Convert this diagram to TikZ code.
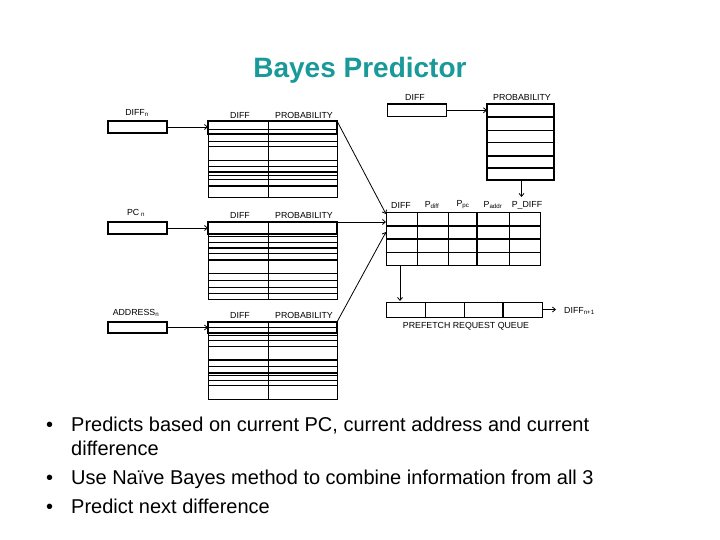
\documentclass[tikz,border=0pt]{standalone}
\usepackage{fontspec}
\setmainfont{Liberation Sans}
\usetikzlibrary{arrows.meta,calc}
\definecolor{teal1}{RGB}{25,153,153}
\begin{document}
\begin{tikzpicture}[x=1pt,y=-1pt,
  lbl/.style={font=\fontsize{8.8}{10}\selectfont, inner sep=0},
  inbox/.style={draw, line width=1.3pt, inner sep=0, outer sep=0, anchor=north west},
  tab/.style={draw, line width=1pt, inner sep=0, outer sep=0, anchor=north west},
  thinl/.style={line width=0.8pt},
  thickl/.style={line width=1.8pt},
  arr/.style={-{Straight Barb[length=3pt,width=5pt]}, line width=0.8pt},
  bul/.style={anchor=base west, inner sep=0, font=\fontsize{20}{24}\selectfont},
]
\useasboundingbox (0,0) rectangle (720,540);

% title
\node[anchor=base, inner sep=0, font=\fontsize{28}{32}\selectfont\bfseries, text=teal1] (title) at (360,78) {Bayes Predictor};

% ---------- left inputs ----------
\node[inbox, minimum width=59pt, minimum height=12pt] (b1) at (108,121) {};
\node[inbox, minimum width=59pt, minimum height=12pt] (b2) at (108,222) {};
\node[inbox, minimum width=59pt, minimum height=11pt] (b3) at (108,322) {};
\node[lbl] (lb1) at (137,113) {DIFF\textsubscript{n}};
\node[lbl] (lb2) at (136,213) {PC\textsubscript{ n}};
\node[lbl] (lb3) at (136,313) {ADDRESS\textsubscript{n}};

% ---------- table 1 ----------
\node[tab, minimum width=129pt, minimum height=77pt] (t1) at (208,121) {};
\foreach \y in {129,141.7,146.7,160,166,175,179.3} \draw[thinl] (208,\y) -- (337,\y);
\foreach \y in {171.7,185.7} \draw[thickl] (208,\y) -- (337,\y);
\draw[thickl] (208,121) rectangle (337,134.3);
\draw[thinl] (268,121) -- (268,198);
\node[lbl] (h1a) at (240,115) {DIFF};
\node[lbl] (h1b) at (304,115) {PROBABILITY};

% ---------- table 2 ----------
\node[tab, minimum width=129pt, minimum height=77pt] (t2) at (208,222) {};
\foreach \y in {236.7,242.3,253.3,273.3,280,287.3,293.3} \draw[thinl] (208,\y) -- (337,\y);
\foreach \y in {247.7,260} \draw[thickl] (208,\y) -- (337,\y);
\draw[thickl] (208,222) rectangle (337,234.3);
\draw[thinl] (268,222) -- (268,299);
\node[lbl] (h2a) at (240,215) {DIFF};
\node[lbl] (h2b) at (304,215) {PROBABILITY};

% ---------- table 3 ----------
\node[tab, minimum width=129pt, minimum height=77pt] (t3) at (208,322) {};
\foreach \y in {327.8,335,340.7,346.7,366.7,375,380,385.7} \draw[thinl] (208,\y) -- (337,\y);
\foreach \y in {360,372.7} \draw[thickl] (208,\y) -- (337,\y);
\draw[thickl] (208,322) rectangle (337,333.3);
\draw[thinl] (268,322) -- (268,399);
\node[lbl] (h3a) at (240,315) {DIFF};
\node[lbl] (h3b) at (304,315) {PROBABILITY};

% ---------- right top ----------
\node[inbox, minimum width=59pt, minimum height=12.5pt] (db) at (387.5,104) {};
\node[lbl] (ldb) at (415,97) {DIFF};
\node[tab, line width=1.4pt, minimum width=67pt, minimum height=76pt] (pt) at (487,104) {};
\foreach \y in {130,142.7} \draw[thinl] (487,\y) -- (554,\y);
\foreach \y in {116.7,155.7,168.3} \draw[thickl] (487,\y) -- (554,\y);
\node[lbl] (lpt) at (522,97) {PROBABILITY};

% ---------- big table ----------
\node[tab, minimum width=154pt, minimum height=52pt] (bt) at (386,213) {};
\foreach \y in {252.7} \draw[thinl] (386,\y) -- (540,\y);
\foreach \y in {226,239.3} \draw[thickl] (386,\y) -- (540,\y);
\foreach \x in {417.3,448.3,509.3} \draw[thinl] (\x,213) -- (\x,265);
\draw[thickl] (477.3,213) -- (477.3,265);
\node[lbl] (c1) at (401,205) {DIFF};
\node[lbl] (c2) at (432,205) {P\textsubscript{diff}};
\node[lbl] (c3) at (463,205) {P\textsubscript{pc}};
\node[lbl] (c4) at (493,205) {P\textsubscript{addr}};
\node[lbl] (c5) at (527,205) {P\_DIFF};

% ---------- queue ----------
\node[tab, minimum width=156pt, minimum height=15pt] (q) at (386,302) {};
\foreach \x in {425,464.3} \draw[thinl] (\x,302) -- (\x,317);
\draw[thickl] (503.3,302) -- (503.3,317);
\node[lbl] (lq) at (466,326) {PREFETCH REQUEST QUEUE};
\node[lbl, anchor=west] (ldn) at (564,311) {DIFF\textsubscript{n+1}};

% ---------- connectors ----------
\coordinate (in1) at ($(bt.north west)+(0,1)$);
\coordinate (in3) at ($(bt.north west)+(0,19)$);
\coordinate (pd) at ($(pt.south)+(1,17)$);
\coordinate (qs) at ($(bt.south west)+(14,0)$);
\coordinate (qt) at ($(q.north west)+(14,-1)$);
\coordinate (dn) at ($(q.east)+(14,0)$);
\draw[arr] (b1.east) -- (b1.east -| t1.west);
\draw[arr] (b2.east) -- (b2.east -| t2.west);
\draw[arr] (b3.east) -- (b3.east -| t3.west);
\draw[arr] (t1.north east) -- (in1);
\draw[arr] (t2.north east) -- (t2.north east -| bt.west);
\draw[arr] (t3.north east) -- (in3);
\draw[arr] (db.east) -- (db.east -| pt.west);
\draw[arr] ($(pt.south)+(1,0)$) -- (pd);
\draw[arr] (qs) -- (qt);
\draw[arr] (q.east) -- (dn);

% ---------- bullets ----------
\node[bul] (d1) at (46,431) {•};
\node[bul] (l1) at (71,431) {Predicts based on current PC, current address and current};
\node[bul] (l1b) at (71,455) {difference};
\node[bul] (d2) at (46,484) {•};
\node[bul] (l2) at (71,484) {Use Naïve Bayes method to combine information from all 3};
\node[bul] (d3) at (46,513) {•};
\node[bul] (l3) at (71,513) {Predict next difference};
\end{tikzpicture}
\end{document}
